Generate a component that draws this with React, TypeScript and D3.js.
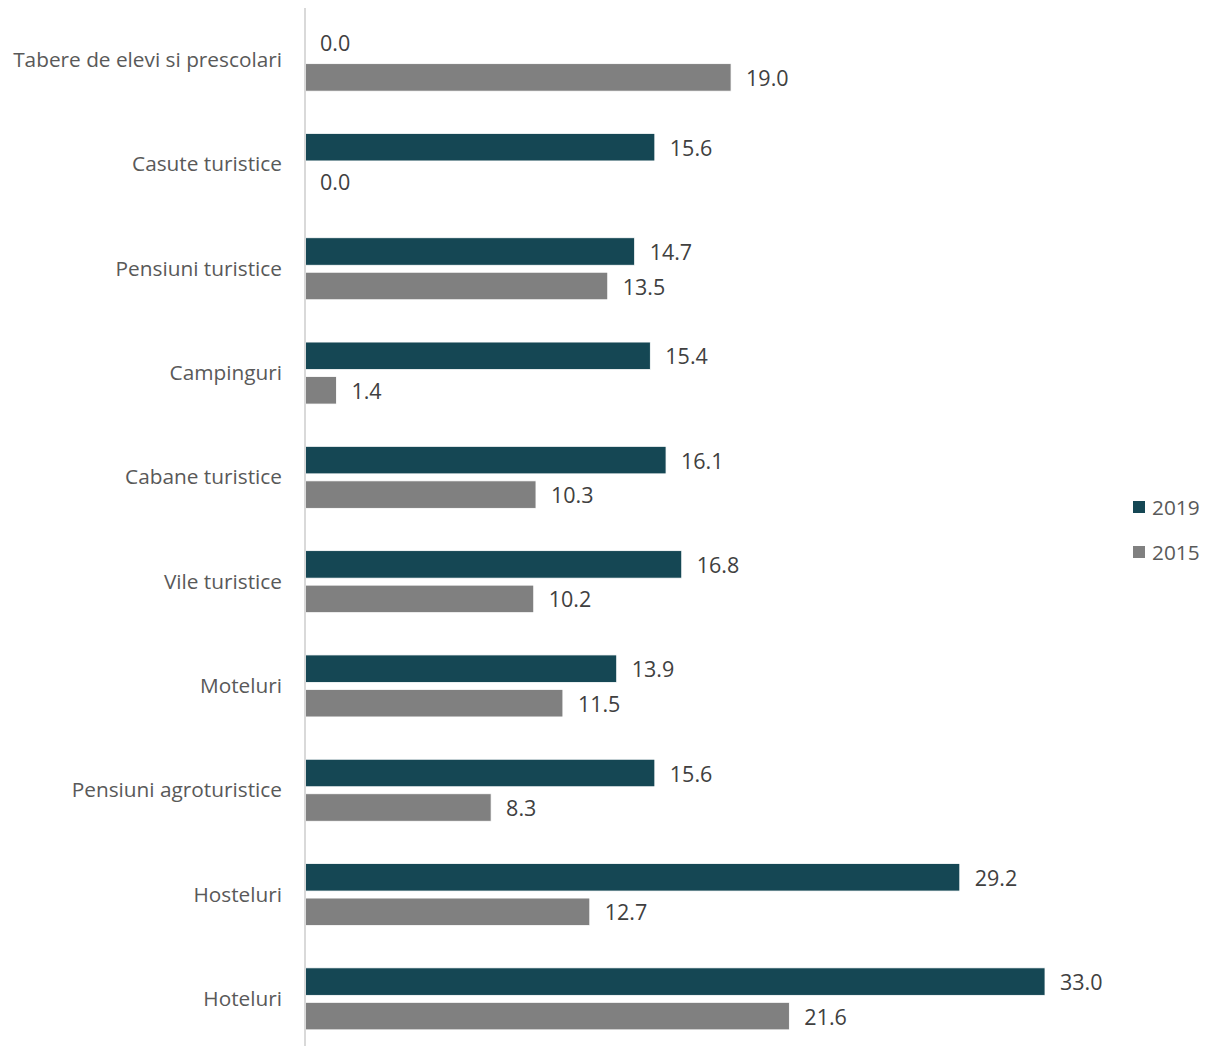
import React from "react";
import * as d3 from "d3";

const categories = [
  "Tabere de elevi si prescolari",
  "Casute turistice",
  "Pensiuni turistice",
  "Campinguri",
  "Cabane turistice",
  "Vile turistice",
  "Moteluri",
  "Pensiuni agroturistice",
  "Hosteluri",
  "Hoteluri",
];
const values2019 = [0.0, 15.6, 14.7, 15.4, 16.1, 16.8, 13.9, 15.6, 29.2, 33.0];
const values2015 = [19.0, 0.0, 13.5, 1.4, 10.3, 10.2, 11.5, 8.3, 12.7, 21.6];
const seriesNames = ["2019", "2015"];
const seriesColors = ["#154754", "#808080"];

export default function App() {
  const W = 1210, H = 1046;
  const x0 = 305;
  const x = d3.scaleLinear().domain([0, 33]).range([x0, 1045]);
  const y = d3.scaleBand().domain(categories).range([8, 1051]).paddingInner(0).paddingOuter(0);
  const bh = 27.5;
  const gap = 7;
  const font = "'Open Sans', sans-serif";
  const series = [values2019, values2015];
  return (
    <div style={{ position: "absolute", left: 0, top: 0 }}>
      <svg width={W} height={H} style={{ display: "block", background: "#fff" }}>
        {categories.map((c, i) => {
          const cy = (y(c) as number) + y.bandwidth() / 2;
          return (
            <g key={c}>
              <text x={282} y={cy - 1} textAnchor="end" dominantBaseline="central" fontFamily={font} fontSize={20.8} fill="#595959">{c}</text>
              {series.map((vals, s) => {
                const top = s === 0 ? cy - gap / 2 - bh : cy + gap / 2;
                const v = vals[i];
                return (
                  <g key={s}>
                    {v > 0 && (
                      <rect x={x(0)} y={top} width={x(v) - x(0)} height={bh} fill={seriesColors[s]} stroke="#fff" strokeWidth={0.8} />
                    )}
                    <text x={x(v) + 15} y={top + bh / 2} dominantBaseline="central" fontFamily={font} fontSize={21.5} fill="#404040">{v.toFixed(1)}</text>
                  </g>
                );
              })}
            </g>
          );
        })}
        <line x1={x0} x2={x0} y1={8} y2={H} stroke="#d9d9d9" strokeWidth={2} />
        {seriesNames.map((n, s) => (
          <g key={n} transform={`translate(1133, ${501 + s * 45})`}>
            <rect x={0} y={0} width={12} height={12} fill={seriesColors[s]} />
            <text x={19} y={6} dominantBaseline="central" fontFamily={font} fontSize={20.8} fill="#595959">{n}</text>
          </g>
        ))}
      </svg>
    </div>
  );
}
